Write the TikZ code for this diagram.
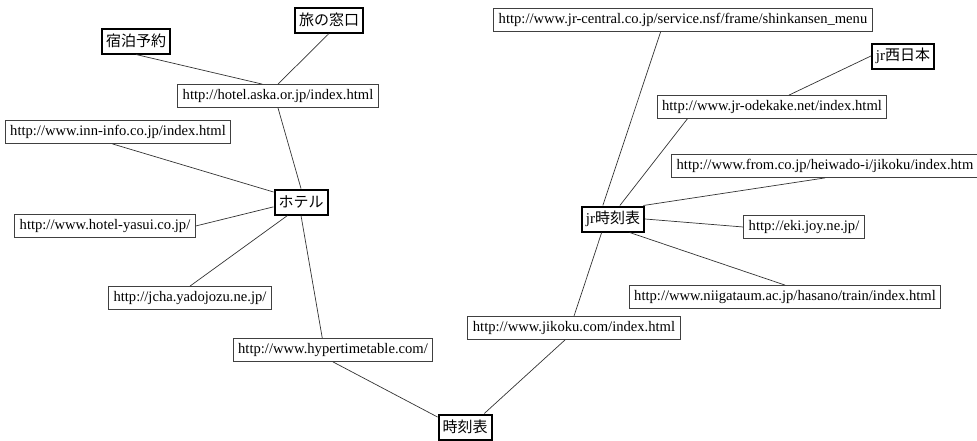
\documentclass[tikz,border=0pt]{standalone}
\usepackage{fontspec}
\setmainfont{Liberation Serif}
\newfontfamily\jp{Noto Sans CJK JP}

\begin{document}
\begin{tikzpicture}[
    x=1pt, y=-1pt,
    site/.style={draw=black!75, line width=0.8pt, fill=white, inner xsep=5pt, minimum height=23pt, font=\fontsize{14.6}{16}\selectfont},
    topic/.style={draw, line width=2pt, fill=white, inner xsep=4pt, minimum height=25pt, font=\fontsize{15}{17}\jp},
    link/.style={draw=black!80, line width=0.7pt}
  ]
  \useasboundingbox (0,0) rectangle (977,440);
  % hotel side
  \node[topic] (mado) at (329,20) {旅の窓口};
  \node[topic] (yado) at (136,41) {宿泊予約};
  \node[site] (aska) at (278,96) {http://hotel.aska.or.jp/index.html};
  \node[site] (inn) at (118,132) {http://www.inn-info.co.jp/index.html};
  \node[topic] (hotel) at (301,202) {ホテル};
  \node[site] (yasui) at (105,226) {http://www.hotel-yasui.co.jp/};
  \node[site] (jcha) at (190,298) {http://jcha.yadojozu.ne.jp/};
  \node[site] (hyper) at (333,350) {http://www.hypertimetable.com/};
  \node[topic] (jikokuhyo) at (465,427) {時刻表};
  % train side
  \node[site] (jikoku) at (574,328) {http://www.jikoku.com/index.html};
  \node[site] (central) at (683,20) {http://www.jr-central.co.jp/service.nsf/frame/shinkansen\_menu};
  \node[topic] (jrwest) at (903,56) {\textrm{jr}西日本};
  \node[site] (odekake) at (772,107) {http://www.jr-odekake.net/index.html};
  \node[site] (from) at (825,166) {http://www.from.co.jp/heiwado-i/jikoku/index.htm};
  \node[topic] (jrtime) at (613,219) {\textrm{jr}時刻表};
  \node[site] (eki) at (804,227) {http://eki.joy.ne.jp/};
  \node[site] (niigata) at (785,297) {http://www.niigataum.ac.jp/hasano/train/index.html};
  % links
  \draw[link] (yado.south) -- (aska.143);
  \draw[link] (mado.south) -- (aska.north);
  \draw[link] (aska.south) -- (hotel.north);
  \draw[link] (inn.245) -- (hotel.160);
  \draw[link] (yasui.east) -- (hotel.190);
  \draw[link] (jcha.north) -- (hotel.225);
  \draw[link] (hotel.south) -- (hyper.132);
  \draw[link] (hyper.south) -- (jikokuhyo.160);
  \draw[link] (jikokuhyo.35) -- (jikoku.233);
  \draw[link] (jikoku.north) -- (jrtime.230);
  \draw[link] (central.208) -- (jrtime.127);
  \draw[link] (odekake.188) -- (jrtime.63);
  \draw[link] (odekake.35) -- (jrwest.west);
  \draw[link] (from.south) -- (jrtime.24);
  \draw[link] (eki.west) -- (jrtime.east);
  \draw[link] (niigata.north) -- (jrtime.-39);
\end{tikzpicture}
\end{document}
